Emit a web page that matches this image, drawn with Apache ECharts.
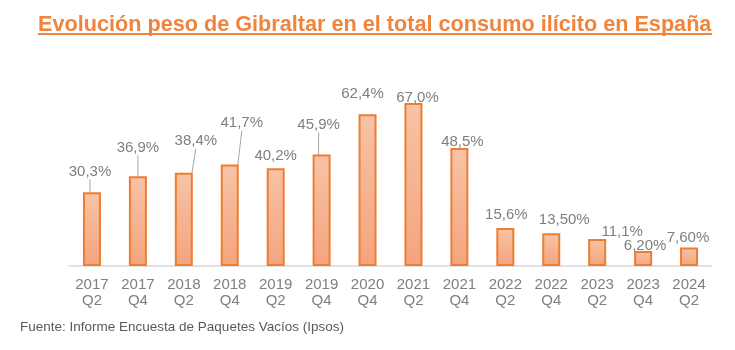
<!DOCTYPE html>
<html>
<head>
<meta charset="utf-8">
<script src="https://cdn.jsdelivr.net/npm/echarts@6/dist/echarts.min.js"></script>
<style>
  html, body { margin: 0; padding: 0; background: #fff; }
  #chart { width: 735px; height: 350px; }
</style>
</head>
<body>
<div id="chart"></div>
<script>
// datos
const categories = ["2017\nQ2", "2017\nQ4", "2018\nQ2", "2018\nQ4", "2019\nQ2", "2019\nQ4", "2020\nQ4",
  "2021\nQ2", "2021\nQ4", "2022\nQ2", "2022\nQ4", "2023\nQ2", "2023\nQ4", "2024\nQ2"];
const values = [30.3, 36.9, 38.4, 41.7, 40.2, 45.9, 62.4, 67.0, 48.5, 15.6, 13.5, 11.1, 6.2, 7.6];
const valueLabels = ["30,3%", "36,9%", "38,4%", "41,7%", "40,2%", "45,9%", "62,4%", "67,0%", "48,5%",
  "15,6%", "13,50%", "11,1%", "6,20%", "7,60%"];
const withLeader = [true, true, true, true, false, true, false, false, false, false, false, false, false, false];

// desplazamiento de etiquetas (como en el original)
const labelShift = [
  [-2, -8], [0, -16], [12, -19], [12, -29], [0, 0], [-3, -17], [-5, -8],
  [4, 7], [3, 6], [1, -1], [13, -1], [25, 5], [2, 7], [-1, 3]
];

const chart = echarts.init(document.getElementById("chart"));

const option = {
  animation: false,
  title: {
    text: "Evolución peso de Gibraltar en el total consumo ilícito en España",
    left: 33,
    top: 9,
    textStyle: {
      color: "#F0843C",
      fontFamily: "Liberation Sans, Arial",
      fontWeight: "bold",
      fontSize: 21.65
    }
  },
  graphic: [
    {
      type: "rect",
      shape: { x: 38, y: 33, width: 674, height: 2 },
      style: { fill: "#F0843C" },
      silent: true
    },
    {
      type: "text",
      left: 20,
      top: 320,
      style: {
        text: "Fuente: Informe Encuesta de Paquetes Vacíos (Ipsos)",
        fill: "#595959",
        font: "13.5px 'Liberation Sans', Arial"
      }
    }
  ],
  grid: {
    left: 69,
    right: 23,
    top: 71.5,
    bottom: 84
  },
  xAxis: {
    type: "category",
    data: categories,
    axisTick: { show: false },
    axisLine: { lineStyle: { color: "#D9D9D9", width: 1.5 } },
    axisLabel: {
      color: "#7F7F7F",
      fontSize: 15,
      fontFamily: "Liberation Sans, Arial",
      lineHeight: 16,
      margin: 11,
      interval: 0
    }
  },
  yAxis: {
    type: "value",
    min: 0,
    max: 80,
    show: false
  },
  series: [
    {
      type: "bar",
      barWidth: 18,
      data: values.map((v, i) => ({
        value: v,
        labelLine: { show: withLeader[i] }
      })),
      itemStyle: {
        color: new echarts.graphic.LinearGradient(0, 0, 0, 1, [
          { offset: 0, color: "#F7C3A6" },
          { offset: 1, color: "#F4A47E" }
        ]),
        borderColor: "#ED7D31",
        borderWidth: 2
      },
      label: {
        show: true,
        position: "top",
        distance: 5,
        color: "#7F7F7F",
        fontSize: 15,
        fontFamily: "Liberation Sans, Arial",
        formatter: (p) => valueLabels[p.dataIndex]
      },
      labelLine: {
        show: false,
        lineStyle: { color: "#A6A6A6", width: 1 }
      },
      labelLayout: (p) => ({
        dx: labelShift[p.dataIndex][0],
        dy: labelShift[p.dataIndex][1]
      }),
      emphasis: { disabled: true }
    }
  ]
};

chart.setOption(option);
</script>
</body>
</html>
